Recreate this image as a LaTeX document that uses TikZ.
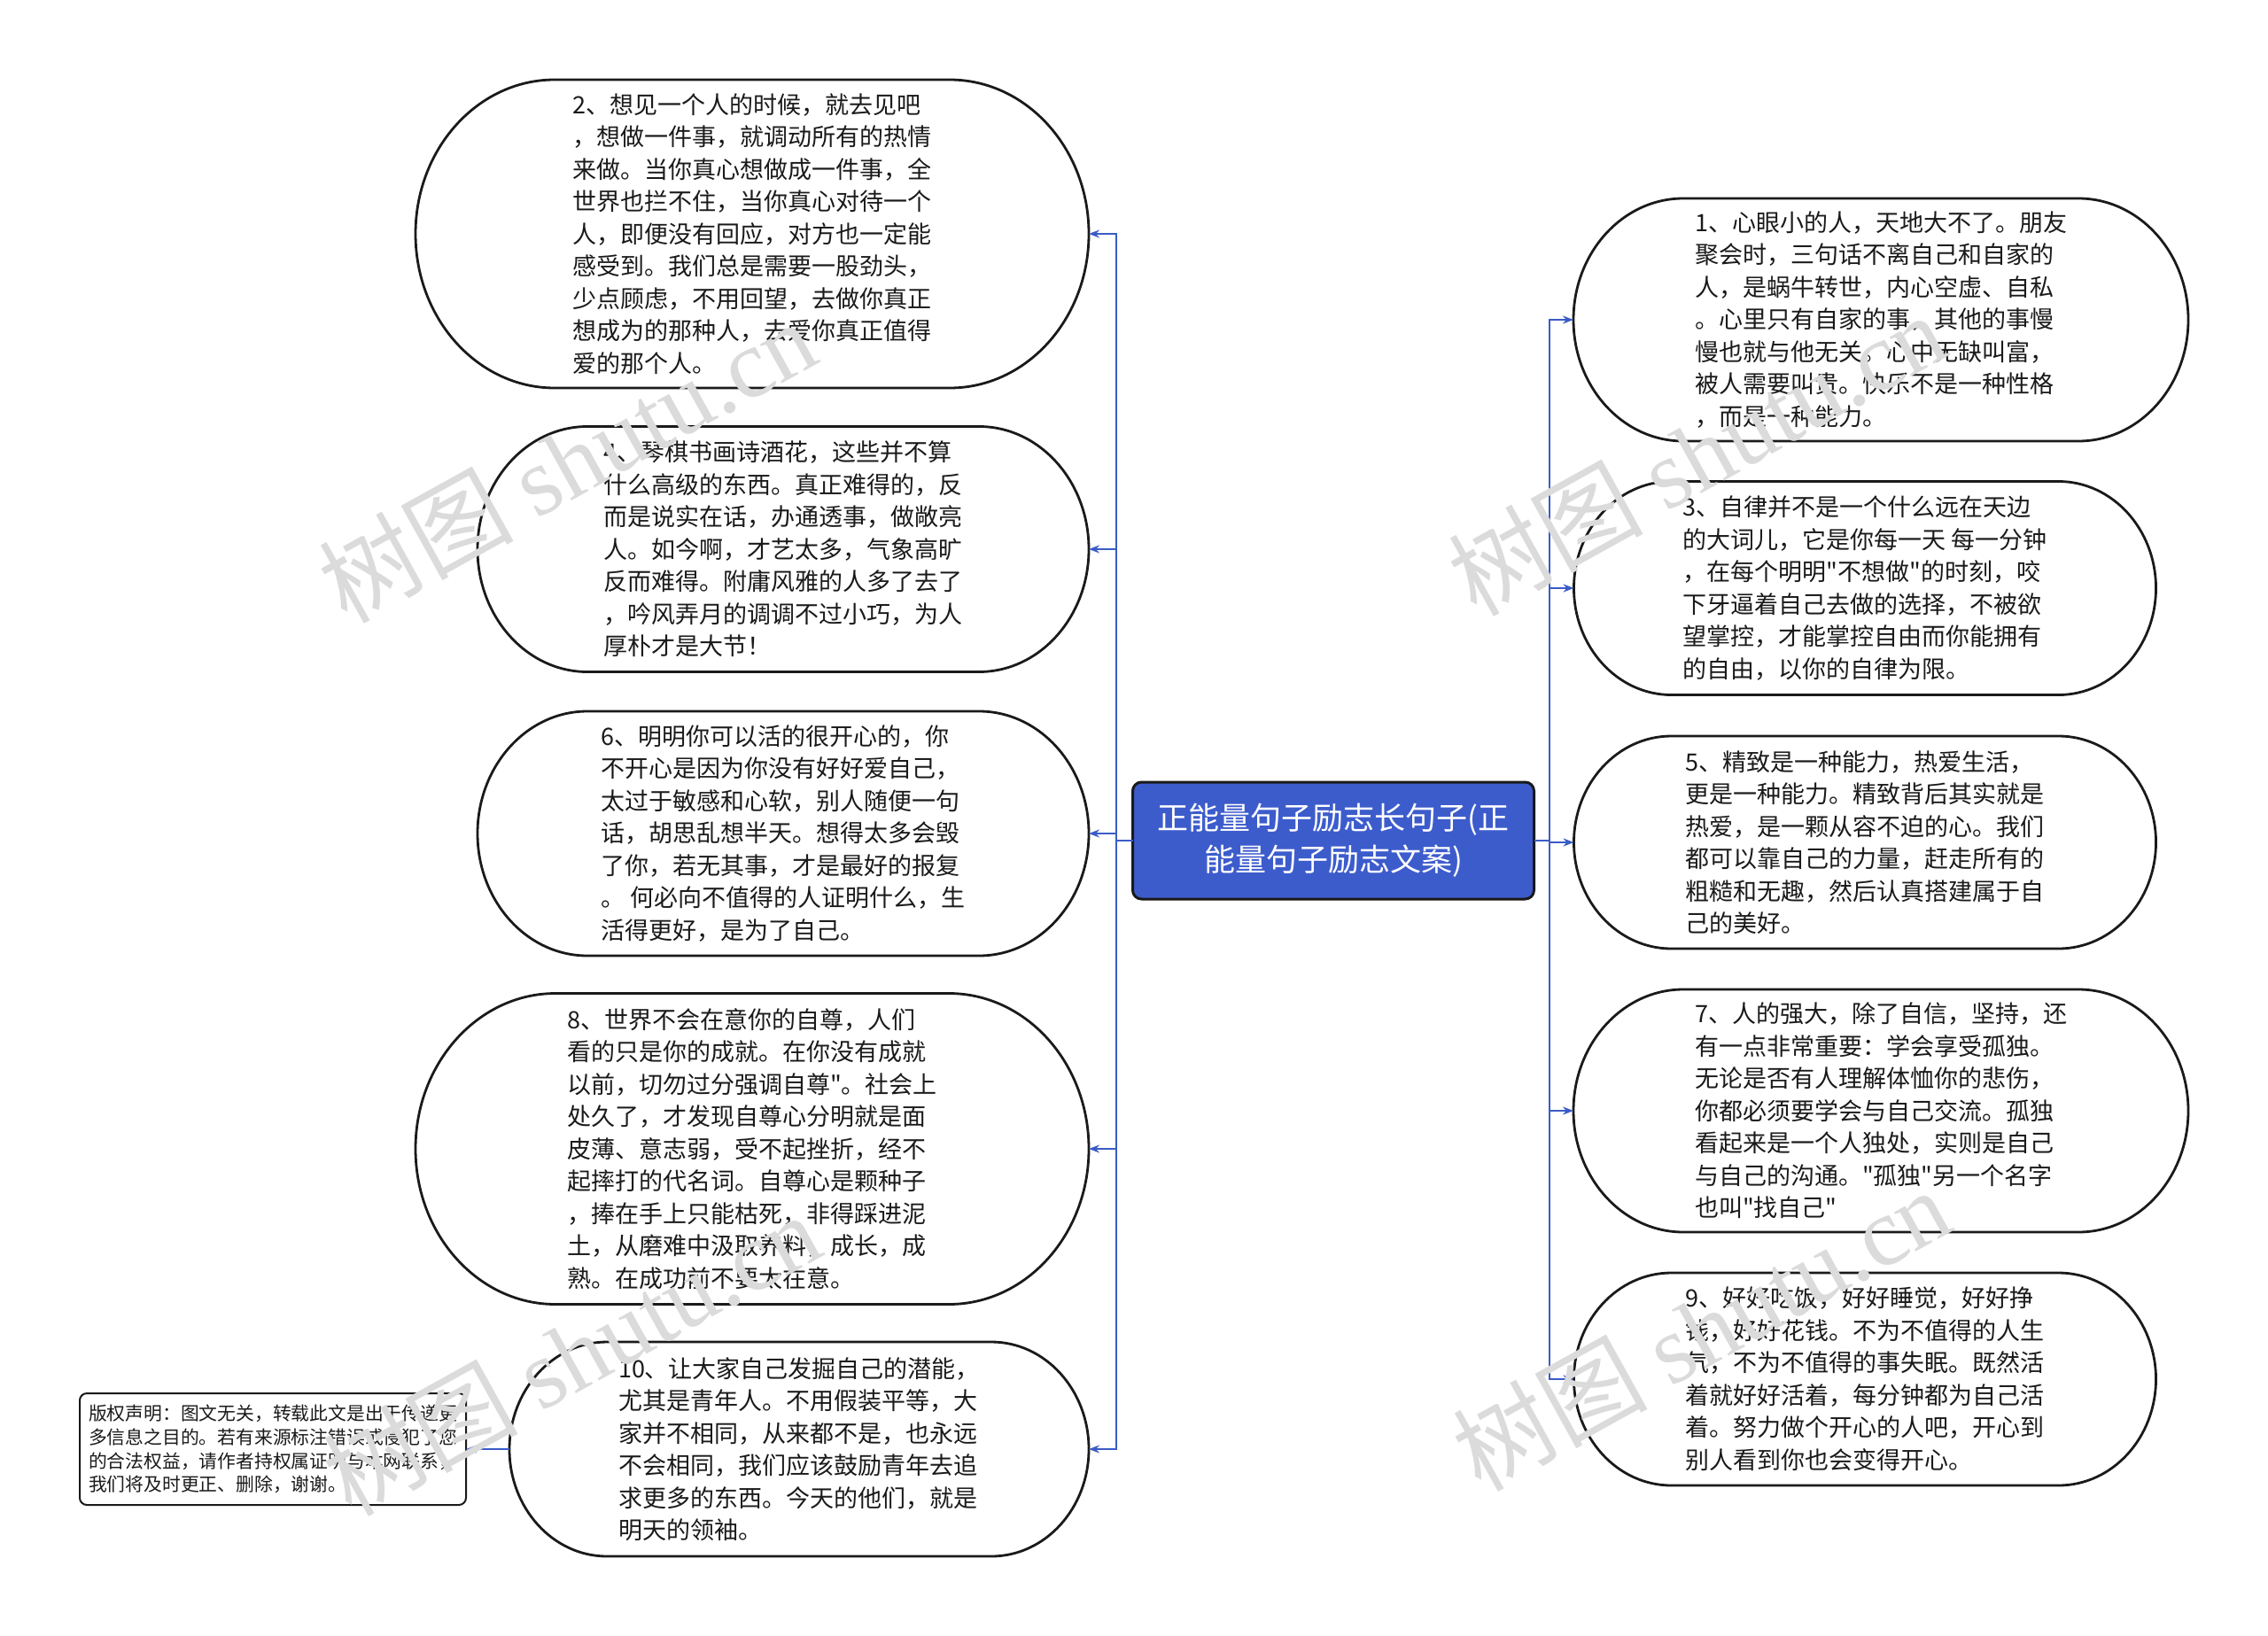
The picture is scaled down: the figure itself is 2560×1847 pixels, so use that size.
\documentclass[tikz,border=0pt]{standalone}
\usepackage{fontspec}
\setmainfont{Noto Sans CJK SC}
\newfontfamily\cjk{Noto Sans CJK SC}
\newfontfamily\wmserif{Liberation Serif}
\usetikzlibrary{arrows.meta,calc}
\definecolor{connblue}{RGB}{58,91,199}
\definecolor{centralblue}{RGB}{61,92,204}
\definecolor{inkblack}{RGB}{26,26,26}
\newcommand\stadiumline[2]{%
  \draw[outline] let \p1=(#1.north west), \p2=(#1.south east), \n1={(\y1-\y2)/2} in
    (\x1+#2,\y1) -- (\x2-#2,\y1)
    arc[start angle=90,end angle=-90,x radius=#2,y radius=\n1]
    -- (\x1+#2,\y2)
    arc[start angle=-90,end angle=-270,x radius=#2,y radius=\n1] -- cycle;}
\begin{document}
\begin{tikzpicture}[x=1pt,y=-1pt,
  every node/.style={inner sep=0pt,outer sep=0pt},
  bubble/.style={align=left,font=\cjk\fontsize{27}{36.5}\selectfont,text=inkblack},
  outline/.style={draw=inkblack,line width=2.8pt},
  conn/.style={draw=connblue,line width=2.5pt,-{Stealth[length=12pt,width=9pt]}},
  trunk/.style={draw=connblue,line width=2.5pt},
  central/.style={draw=inkblack,line width=3pt,fill=centralblue,rounded corners=10pt,
    text=white,align=center,font=\cjk\fontsize{35}{47}\selectfont},
  notebox/.style={draw=inkblack,line width=2pt,rounded corners=8pt,align=left,
    font=\cjk\fontsize{20.8}{26.6}\selectfont,text=inkblack},
  wm/.style={text=black!14,font=\cjk\fontsize{110}{110}\selectfont,rotate=29},
]
\fill[white] (0,0) rectangle (2560,1847);
\useasboundingbox (0,0) rectangle (2560,1847);

% central node
\node[central,minimum width=453pt,minimum height=132pt] (c) at (1505,949)
  {正能量句子励志长句子(正\\能量句子励志文案)};

% left nodes
\node[bubble,minimum width=760pt,minimum height=348pt] (n2) at (849,264)
  {2、想见一个人的时候，就去见吧\\，想做一件事，就调动所有的热情\\来做。当你真心想做成一件事，全\\世界也拦不住，当你真心对待一个\\人，即便没有回应，对方也一定能\\感受到。我们总是需要一股劲头，\\少点顾虑，不用回望，去做你真正\\想成为的那种人，去爱你真正值得\\爱的那个人。};
\node[bubble,minimum width=690pt,minimum height=277pt] (n4) at (884,620)
  {4、琴棋书画诗酒花，这些并不算\\什么高级的东西。真正难得的，反\\而是说实在话，办通透事，做敞亮\\人。如今啊，才艺太多，气象高旷\\反而难得。附庸风雅的人多了去了\\，吟风弄月的调调不过小巧，为人\\厚朴才是大节！};
\node[bubble,minimum width=690pt,minimum height=276pt] (n6) at (884,941)
  {6、明明你可以活的很开心的，你\\不开心是因为你没有好好爱自己，\\太过于敏感和心软，别人随便一句\\话，胡思乱想半天。想得太多会毁\\了你，若无其事，才是最好的报复\\。 何必向不值得的人证明什么，生\\活得更好，是为了自己。};
\node[bubble,minimum width=760pt,minimum height=351pt] (n8) at (849,1297)
  {8、世界不会在意你的自尊，人们\\看的只是你的成就。在你没有成就\\以前，切勿过分强调自尊"。社会上\\处久了，才发现自尊心分明就是面\\皮薄、意志弱，受不起挫折，经不\\起摔打的代名词。自尊心是颗种子\\，捧在手上只能枯死，非得踩进泥\\土，从磨难中汲取养料，成长，成\\熟。在成功前不要太在意。};
\node[bubble,minimum width=654pt,minimum height=242pt] (n10) at (902,1636)
  {10、让大家自己发掘自己的潜能，\\尤其是青年人。不用假装平等，大\\家并不相同，从来都不是，也永远\\不会相同，我们应该鼓励青年去追\\求更多的东西。今天的他们，就是\\明天的领袖。};
\node[notebox,minimum width=436pt,minimum height=126pt] (cp) at (308,1636)
  {版权声明：图文无关，转载此文是出于传递更\\多信息之目的。若有来源标注错误或侵犯了您\\的合法权益，请作者持权属证明与本网联系，\\我们将及时更正、删除，谢谢。};

% right nodes
\node[bubble,minimum width=694pt,minimum height=274pt] (n1) at (2123,361)
  {1、心眼小的人，天地大不了。朋友\\聚会时，三句话不离自己和自家的\\人，是蜗牛转世，内心空虚、自私\\。心里只有自家的事，其他的事慢\\慢也就与他无关。心中无缺叫富，\\被人需要叫贵。快乐不是一种性格\\，而是一种能力。};
\node[bubble,minimum width=657pt,minimum height=241pt] (n3) at (2105,664)
  {3、自律并不是一个什么远在天边\\的大词儿，它是你每一天 每一分钟\\，在每个明明"不想做"的时刻，咬\\下牙逼着自己去做的选择，不被欲\\望掌控，才能掌控自由而你能拥有\\的自由，以你的自律为限。};
\node[bubble,minimum width=657pt,minimum height=240pt] (n5) at (2105,951)
  {5、精致是一种能力，热爱生活，\\更是一种能力。精致背后其实就是\\热爱，是一颗从容不迫的心。我们\\都可以靠自己的力量，赶走所有的\\粗糙和无趣，然后认真搭建属于自\\己的美好。};
\node[bubble,minimum width=694pt,minimum height=274pt] (n7) at (2123,1254)
  {7、人的强大，除了自信，坚持，还\\有一点非常重要：学会享受孤独。\\无论是否有人理解体恤你的悲伤，\\你都必须要学会与自己交流。孤独\\看起来是一个人独处，实则是自己\\与自己的沟通。"孤独"另一个名字\\也叫"找自己"};
\node[bubble,minimum width=657pt,minimum height=240pt] (n9) at (2105,1557)
  {9、好好吃饭，好好睡觉，好好挣\\钱，好好花钱。不为不值得的人生\\气，不为不值得的事失眠。既然活\\着就好好活着，每分钟都为自己活\\着。努力做个开心的人吧，开心到\\别人看到你也会变得开心。};

% outlines
\stadiumline{n2}{157pt}
\stadiumline{n4}{124pt}
\stadiumline{n6}{124pt}
\stadiumline{n8}{158pt}
\stadiumline{n10}{110pt}
\stadiumline{n1}{124pt}
\stadiumline{n3}{110pt}
\stadiumline{n5}{110pt}
\stadiumline{n7}{124pt}
\stadiumline{n9}{110pt}

% connectors
\coordinate (lt) at (1260,949);
\coordinate (rt) at (1749,949);
\draw[trunk] (c.west) -- (lt);
\draw[trunk] (c.east) -- (rt);
\draw[conn] (lt) |- (n2.east);
\draw[conn] (lt) |- (n4.east);
\draw[conn] (lt) |- (n6.east);
\draw[conn] (lt) |- (n8.east);
\draw[conn] (lt) |- (n10.east);
\draw[conn] (rt) |- (n1.west);
\draw[conn] (rt) |- (n3.west);
\draw[conn] (rt) |- (n5.west);
\draw[conn] (rt) |- (n7.west);
\draw[conn] (rt) |- (n9.west);
\draw[conn] (n10.west) -- (cp.east);

% watermarks
\node[wm] (w1) at (640,520) {树图 {\wmserif shutu.cn}};
\node[wm] (w2) at (1915,512) {树图 {\wmserif shutu.cn}};
\node[wm] (w3) at (645,1528) {树图 {\wmserif shutu.cn}};
\node[wm] (w4) at (1920,1500) {树图 {\wmserif shutu.cn}};
\end{tikzpicture}
\end{document}
